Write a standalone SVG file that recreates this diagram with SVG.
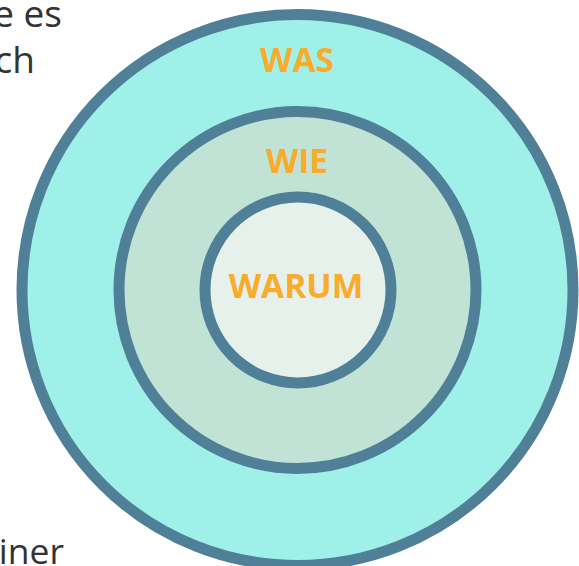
<svg xmlns="http://www.w3.org/2000/svg" width="579" height="566" viewBox="0 0 579 566">
<style>
.ring{stroke:#4F8098;stroke-width:11}
.lbl{font-family:"Open Sans","Noto Sans",sans-serif;font-weight:bold;font-size:33.5px;fill:#F9AB2A;text-anchor:middle}
.body{font-family:"Open Sans","Noto Sans",sans-serif;font-size:37px;fill:#333333;text-anchor:end}
</style>
<rect width="579" height="566" fill="#FFFFFF"/>
<g id="side-text">
<text class="body" x="62" y="27">e es</text>
<text class="body" x="35" y="73">ch</text>
<text class="body" x="64" y="564" style="font-size:35.5px">iner</text>
</g>
<g id="was">
<circle class="ring" cx="297.5" cy="290" r="275.5" fill="#A0F0EA"/>
<text class="lbl" x="297" y="72">WAS</text>
</g>
<g id="wie">
<circle class="ring" cx="297.5" cy="290" r="178.5" fill="#C0E3D6"/>
<text class="lbl" x="297" y="173">WIE</text>
</g>
<g id="warum">
<circle class="ring" cx="298" cy="290" r="93" fill="#E7F1EC"/>
<text class="lbl" x="296" y="298">WARUM</text>
</g>
<g id="connectors"/>
</svg>
